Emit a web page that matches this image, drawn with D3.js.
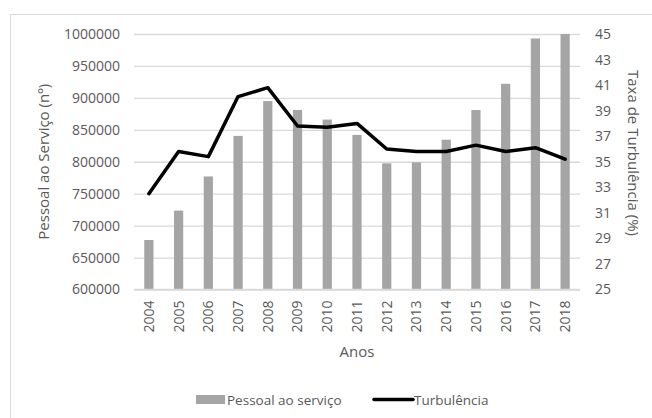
<!DOCTYPE html>
<html><head><meta charset="utf-8">
<script src="https://cdn.jsdelivr.net/npm/d3@7"></script>
<style>body{margin:0;background:#fff}svg{display:block}text{font-family:"Open Sans",sans-serif;fill:#595959}</style>
</head><body><svg id="c" width="652" height="418"></svg>
<script>
const years = ["2004","2005","2006","2007","2008","2009","2010","2011","2012","2013","2014","2015","2016","2017","2018"];
const pessoal = [677500,723500,777000,840500,895000,881000,866000,842000,797500,799000,834500,881000,922000,993000,1000000];
const turbulencia = [32.5,35.8,35.4,40.1,40.8,37.8,37.7,38.0,36.0,35.8,35.8,36.3,35.8,36.1,35.2];
const leftTicks = [600000,650000,700000,750000,800000,850000,900000,950000,1000000];
const rightTicks = [25,27,29,31,33,35,37,39,41,43,45];

const svg = d3.select("#c");
const W=652,H=418;
const m={l:134,r:580,t:34,b:289.5};
svg.append("rect").attr("x",10.5).attr("y",14.5).attr("width",700).attr("height",500)
  .attr("fill","none").attr("stroke","#d9d9d9").attr("stroke-width",1);

const x = d3.scaleBand().domain(years).range([m.l,m.r]).paddingInner(0.69).paddingOuter(0.345);
const y = d3.scaleLinear().domain([600000,1000000]).range([m.b,m.t]);
const y2 = d3.scaleLinear().domain([25,45]).range([m.b,m.t]);

// gridlines
const gl = d3.axisLeft(y).tickValues(leftTicks).tickSize(-(m.r-m.l)).tickFormat("");
svg.append("g").attr("transform",`translate(${m.l},0)`).call(gl)
  .call(g=>{g.select(".domain").remove();g.selectAll("line").attr("stroke","#d9d9d9").attr("stroke-width",1.3);});

// left axis labels
svg.append("g").attr("transform",`translate(${m.l},0)`)
  .call(d3.axisLeft(y).tickValues(leftTicks).tickSize(0).tickPadding(14).tickFormat(d3.format("d")))
  .call(g=>{g.select(".domain").remove();g.selectAll("text").attr("font-size",14).style("fill","#595959").attr("font-family","Open Sans");});

// right axis labels
svg.append("g").attr("transform",`translate(${m.r},0)`)
  .call(d3.axisRight(y2).tickValues(rightTicks).tickSize(0).tickPadding(15).tickFormat(d3.format("d")))
  .call(g=>{g.select(".domain").remove();g.selectAll("text").attr("font-size",14).style("fill","#595959").attr("font-family","Open Sans");});

// bars
svg.append("g").selectAll("rect").data(years).join("rect")
  .attr("x",d=>x(d)).attr("width",x.bandwidth())
  .attr("y",(d,i)=>y(pessoal[i])).attr("height",(d,i)=>m.b-y(pessoal[i]))
  .attr("fill","#a5a5a5");

// x axis line
svg.append("line").attr("x1",m.l).attr("x2",m.r).attr("y1",m.b).attr("y2",m.b).attr("stroke","#d9d9d9").attr("stroke-width",1.3);

// x labels
const xb = d3.scaleBand().domain(years).range([m.l,m.r]);
svg.append("g").attr("transform",`translate(0,${m.b})`)
  .call(d3.axisBottom(xb).tickSize(0).tickPadding(0))
  .call(g=>{g.select(".domain").remove();
    g.selectAll("text").attr("font-size",14).attr("font-family","Open Sans").style("fill","#595959")
     .attr("text-anchor","end").attr("dy","0.35em").attr("y",0)
     .attr("transform","translate(0,11) rotate(-90)");});

// line
const line = d3.line().x((d,i)=>xb(years[i])+xb.bandwidth()/2).y(d=>y2(d));
svg.append("path").datum(turbulencia).attr("d",line).attr("fill","none")
  .attr("stroke","#000").attr("stroke-width",3.5).attr("stroke-linejoin","round").attr("stroke-linecap","round");

// titles
svg.append("text").attr("transform",`translate(49,${(m.t+m.b)/2}) rotate(-90)`)
  .attr("text-anchor","middle").attr("font-size",15).text("Pessoal ao Serviço (nº)");
svg.append("text").attr("transform",`translate(628,153) rotate(90)`)
  .attr("text-anchor","middle").attr("font-size",15).text("Taxa de Turbulência (%)");
svg.append("text").attr("x",(m.l+m.r)/2).attr("y",357).attr("text-anchor","middle").attr("font-size",15).text("Anos");

// legend
const lg = svg.append("g");
lg.append("rect").attr("x",196).attr("y",395).attr("width",29).attr("height",9).attr("fill","#a5a5a5");
lg.append("text").attr("x",227).attr("y",404.5).attr("font-size",13.5).text("Pessoal ao serviço");
lg.append("line").attr("x1",374).attr("x2",413).attr("y1",399.5).attr("y2",399.5).attr("stroke","#000").attr("stroke-width",3.5).attr("stroke-linecap","round");
lg.append("text").attr("x",414).attr("y",404.5).attr("font-size",13.5).text("Turbulência");
</script></body></html>
